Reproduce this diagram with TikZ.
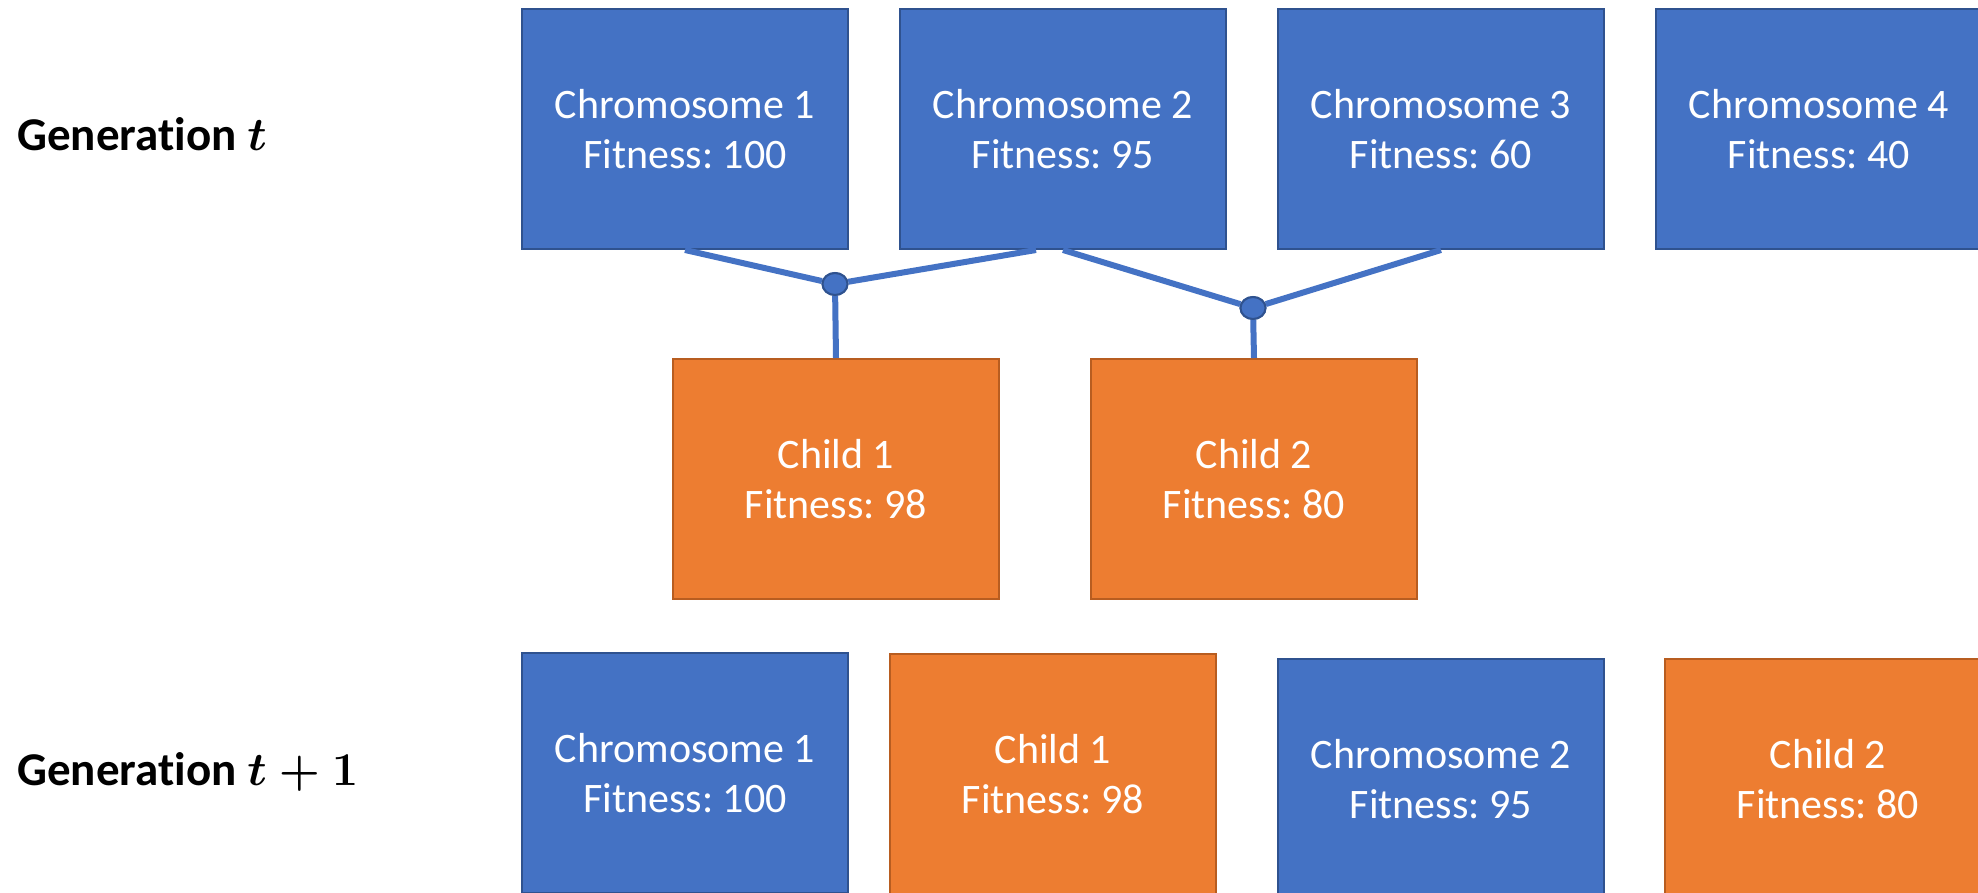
\documentclass[tikz,border=0pt]{standalone}
\usepackage{fix-cm}
\usepackage{fontspec}
\setmainfont{Carlito}[Ligatures=NoCommon]
\usetikzlibrary{shapes.geometric}
\frenchspacing
\definecolor{cblue}{HTML}{4472C4}
\definecolor{cblueline}{HTML}{2F528F}
\definecolor{corange}{HTML}{ED7D31}
\definecolor{corangeline}{HTML}{B85D20}
\begin{document}
\begin{tikzpicture}[x=0.5pt,y=-0.5pt,
  box/.style={draw, line width=1pt, minimum width=163pt, minimum height=120pt,
    inner sep=0pt, anchor=north west, align=center, text=white,
    font=\fontsize{21pt}{25pt}\selectfont},
  bluebox/.style={box, fill=cblue, draw=cblueline},
  orangebox/.style={box, fill=corange, draw=corangeline},
  link/.style={draw=cblue, line width=3pt},
  joint/.style={ellipse, fill=cblue, draw=cblueline, line width=1pt,
    minimum width=12.5pt, minimum height=11pt, inner sep=0pt},
  gen/.style={anchor=base west, inner sep=0pt,
    font=\fontsize{23.5pt}{28pt}\selectfont\bfseries}]
\useasboundingbox (0,0) rectangle (1978,893);

% labels
\node[gen] (g1) at (17,151) {Generation {\boldmath$t$}};
\node[gen] (g2) at (17,785) {Generation {\boldmath$t+1$}};

% generation t
\node[bluebox] (c1) at (521,8) {Chromosome 1\\Fitness: 100};
\node[bluebox] (c2) at (899,8) {Chromosome 2\\Fitness: 95};
\node[bluebox] (c3) at (1277,8) {Chromosome 3\\Fitness: 60};
\node[bluebox] (c4) at (1655,8) {Chromosome 4\\Fitness: 40};

% children
\node[orangebox] (k1) at (672,358) {Child 1\\Fitness: 98};
\node[orangebox] (k2) at (1090,358) {Child 2\\Fitness: 80};

% joints
\node[joint] (d1) at (835,284) {};
\node[joint] (d2) at (1253,308) {};

\draw[link] (c1.south) -- (d1);
\draw[link] ([xshift=-13.5pt]c2.south) -- (d1);
\draw[link] (d1) -- (k1.north);
\draw[link] (c2.south) -- (d2);
\draw[link] (c3.south) -- (d2);
\draw[link] (d2) -- (k2.north);
\node[joint] at (d1) {};
\node[joint] at (d2) {};

% generation t+1
\node[bluebox] (n1) at (521,652) {Chromosome 1\\Fitness: 100};
\node[orangebox] (n2) at (889,653) {Child 1\\Fitness: 98};
\node[bluebox] (n3) at (1277,658) {Chromosome 2\\Fitness: 95};
\node[orangebox] (n4) at (1664,658) {Child 2\\Fitness: 80};
\end{tikzpicture}
\end{document}
